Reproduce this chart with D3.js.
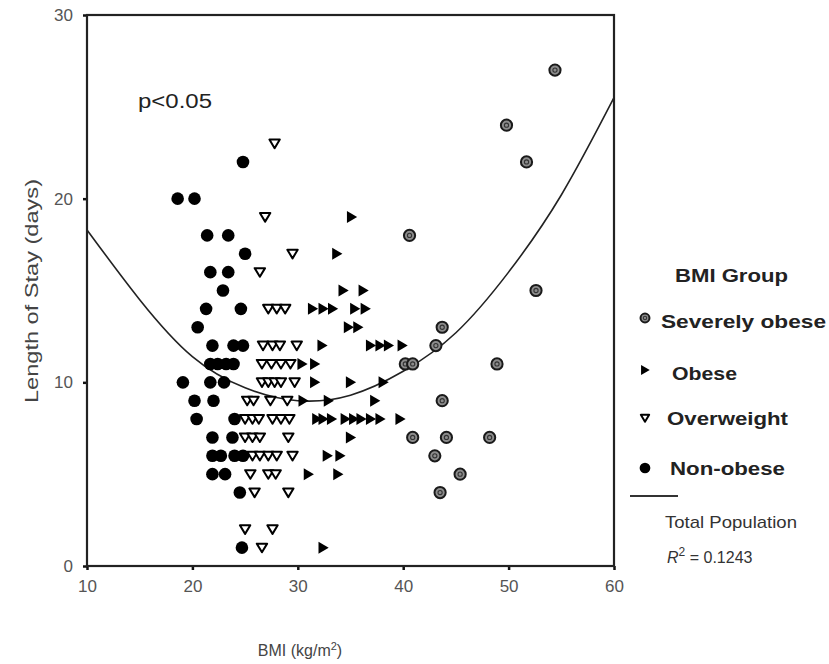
<!DOCTYPE html>
<html>
<head>
<meta charset="utf-8">
<script src="https://cdn.jsdelivr.net/npm/d3@7"></script>
<style>
  html, body { margin: 0; padding: 0; background: #fff; }
  svg { display: block; font-family: "Liberation Sans", Arial, sans-serif; }
</style>
</head>
<body>
<svg id="chart" width="829" height="664"></svg>
<script>
// ---- data (BMI kg/m2, length of stay days) ----
const nonObese = [
  [18.6,20],[20.2,20],[24.8,22],
  [21.4,18],[23.4,18],[25.0,17],
  [21.7,16],[23.4,16],[22.9,15],
  [21.3,14],[24.6,14],[20.5,13],
  [21.9,12],[23.9,12],[24.8,12],
  [21.7,11],[22.4,11],[23.2,11],[23.9,11],
  [19.1,10],[21.7,10],[23.0,10],
  [20.2,9],[22.0,9],
  [20.4,8],[24.0,8],
  [21.9,7],[23.8,7],
  [21.9,6],[22.7,6],[24.0,6],[24.8,6],
  [21.9,5],[23.1,5],
  [24.5,4],[24.7,1]
];
const overweight = [
  [27.8,23],[26.9,19],[29.5,17],[26.4,16],
  [27.2,14],[28.0,14],[28.8,14],
  [26.7,12],[27.6,12],[28.3,12],[29.9,12],
  [26.6,11],[27.5,11],[28.4,11],[29.3,11],
  [26.6,10],[27.2,10],[27.8,10],[28.4,10],[29.7,10],
  [25.2,9],[25.8,9],[27.4,9],[29.0,9],
  [25.0,8],[25.7,8],[26.3,8],[27.6,8],[28.4,8],[29.2,8],
  [25.0,7],[25.7,7],[26.4,7],[29.1,7],
  [25.7,6],[26.4,6],[27.2,6],[28.0,6],[29.5,6],
  [25.5,5],[27.2,5],[27.9,5],
  [25.9,4],[29.1,4],
  [25.0,2],[27.6,2],[26.6,1]
];
const obese = [
  [35.1,19],[33.7,17],[34.3,15],[36.2,15],
  [31.4,14],[32.4,14],[33.3,14],[35.4,14],[36.4,14],
  [34.8,13],[35.7,13],
  [32.3,12],[36.9,12],[37.8,12],[38.6,12],[39.9,12],
  [30.4,11],[31.6,11],
  [31.6,10],[35.0,10],[38.1,10],
  [30.5,9],[32.9,9],[37.3,9],
  [31.8,8],[32.4,8],[33.2,8],[34.5,8],[35.3,8],[36.0,8],[36.9,8],[37.8,8],[39.7,8],
  [35.0,7],[32.8,6],[34.0,6],[31.0,5],[33.8,5],[32.4,1]
];
const severelyObese = [
  [54.4,27],[49.8,24],[51.7,22],[40.6,18],[52.6,15],[43.7,13],[43.1,12],
  [40.2,11],[40.9,11],[48.9,11],[43.7,9],[40.9,7],[44.1,7],[48.2,7],
  [43.0,6],[45.4,5],[43.5,4]
];
// quadratic fit line
const fitBMI = [10,15,20,25,30,35,40,45,50,55,60];
const fitLOS = [18.3,14.5,11.4,9.7,9.0,9.3,10.6,12.7,16.0,20.2,25.5];
const xTicks = [10,20,30,40,50,60];
const yTicks = [0,10,20,30];
const legendLabels = ["Severely obese","Obese","Overweight","Non-obese"];

// ---- drawing ----
const svg = d3.select("#chart");
const L = 87, R = 614, T = 15, B = 566;
const x = d3.scaleLinear().domain([10,60]).range([L,R]);
const y = d3.scaleLinear().domain([0,30]).range([B,T]);

// axes
const xAxis = svg.append("g").attr("transform",`translate(0,${B})`)
  .call(d3.axisBottom(x).tickValues(xTicks).tickSize(4).tickPadding(10).tickFormat(d3.format("d")));
const yAxis = svg.append("g").attr("transform",`translate(${L},0)`)
  .call(d3.axisLeft(y).tickValues(yTicks).tickSize(4).tickPadding(10).tickFormat(d3.format("d")));
[xAxis,yAxis].forEach(g=>{
  g.select(".domain").remove();
  g.selectAll(".tick line").attr("stroke","#111").attr("stroke-width",2.5);
  g.selectAll(".tick text").attr("fill","#555").style("font-size","17px")
   .style("font-family","'Liberation Sans', Arial, sans-serif");
});

// frame
svg.append("rect").attr("x",L).attr("y",T).attr("width",R-L).attr("height",B-T)
  .attr("fill","none").attr("stroke","#222").attr("stroke-width",2.2);

// fit curve
const fitPts = fitBMI.map((b,i)=>[b,fitLOS[i]]);
svg.append("path").datum(fitPts)
  .attr("d", d3.line().x(d=>x(d[0])).y(d=>y(d[1])).curve(d3.curveNatural))
  .attr("fill","none").attr("stroke","#222").attr("stroke-width",1.6);

// symbol drawers
const downTri = "M-5.2,-4 L5.2,-4 L0,4.6 Z";
const rightTri = "M-4.6,-6 L-4.6,6 L5.6,0 Z";
function drawSevere(g, s) {
  g.append("circle").attr("r",5.6*s).attr("fill","#8c8c8c").attr("stroke","#1a1a1a").attr("stroke-width",2);
  g.append("circle").attr("r",2.1*s).attr("fill","none").attr("stroke","#333").attr("stroke-width",1.1);
}
function drawObese(g, s) {
  g.append("path").attr("d",rightTri).attr("transform",`scale(${s})`).attr("fill","#000");
}
function drawOver(g, s) {
  g.append("path").attr("d",downTri).attr("transform",`scale(${s})`).attr("fill","#fff")
   .attr("stroke","#000").attr("stroke-width",2/s).attr("stroke-linejoin","round");
}
function drawNon(g, s) {
  g.append("circle").attr("r",6.3*s).attr("fill","#000");
}

const groups = [
  [severelyObese, drawSevere],
  [obese, drawObese],
  [overweight, drawOver],
  [nonObese, drawNon]
];
groups.forEach(([data, fn])=>{
  svg.append("g").selectAll("g").data(data).join("g")
    .attr("transform", d=>`translate(${x(d[0])},${y(d[1])})`)
    .each(function(){ fn(d3.select(this), 1); });
});

// annotation
svg.append("text").attr("x",138).attr("y",108).text("p<0.05")
  .attr("fill","#222").style("font-size","20px")
  .attr("textLength",74).attr("lengthAdjust","spacingAndGlyphs");

// axis titles
svg.append("text").attr("transform","translate(38,291) rotate(-90)")
  .attr("text-anchor","middle").attr("fill","#444").style("font-size","19px")
  .attr("textLength",224).attr("lengthAdjust","spacingAndGlyphs")
  .text("Length of Stay (days)");
const xt = svg.append("text").attr("x",300).attr("y",656).attr("text-anchor","middle")
  .attr("fill","#444").style("font-size","16px");
xt.append("tspan").text("BMI (kg/m");
xt.append("tspan").attr("dy",-6).style("font-size","11px").text("2");
xt.append("tspan").attr("dy",6).text(")");

// legend
svg.append("text").attr("x",675).attr("y",282).text("BMI Group")
  .attr("fill","#222").style("font-size","18px").style("font-weight","bold")
  .attr("textLength",113).attr("lengthAdjust","spacingAndGlyphs");
const legItems = [
  {sy:318, tx:661, ty:328, w:165, fn:drawSevere, s:0.8},
  {sy:370, tx:672, ty:380, w:65, fn:drawObese, s:0.85},
  {sy:418, tx:667, ty:425, w:121, fn:drawOver, s:0.8},
  {sy:468, tx:670, ty:475, w:115, fn:drawNon, s:0.85}
];
legItems.forEach((it,i)=>{
  const g = svg.append("g").attr("transform",`translate(645,${it.sy})`);
  it.fn(g, it.s);
  svg.append("text").attr("x",it.tx).attr("y",it.ty).text(legendLabels[i])
    .attr("fill","#222").style("font-size","18px").style("font-weight","bold")
    .attr("textLength",it.w).attr("lengthAdjust","spacingAndGlyphs");
});
svg.append("line").attr("x1",630).attr("x2",678).attr("y1",496).attr("y2",496)
  .attr("stroke","#333").attr("stroke-width",2);
svg.append("text").attr("x",665).attr("y",528).text("Total Population")
  .attr("fill","#333").style("font-size","17px")
  .attr("textLength",132).attr("lengthAdjust","spacingAndGlyphs");
const r2 = svg.append("text").attr("x",667).attr("y",563).attr("fill","#333").style("font-size","16px");
r2.append("tspan").style("font-style","italic").text("R");
r2.append("tspan").attr("dy",-7).style("font-size","12px").text("2");
r2.append("tspan").attr("dy",7).text(" = 0.1243");
</script>
</body>
</html>
